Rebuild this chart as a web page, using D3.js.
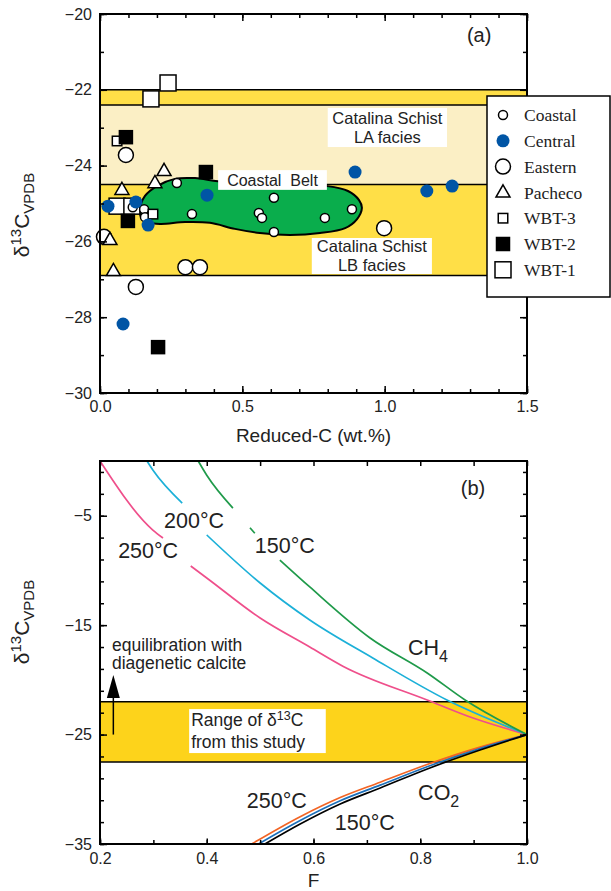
<!DOCTYPE html>
<meta charset="utf-8">
<style>
    body { margin: 0; background: #fff; }
    text { font-family: "Liberation Sans", Arial, Helvetica, sans-serif; fill: #222; }
    .legend text { font-family: "Liberation Serif", "Times New Roman", serif; }
</style>
<svg width="611" height="891"></svg>
<script src="https://cdn.jsdelivr.net/npm/d3@7"></script>
<script>

    // ---------- panel (a) : reduced C (wt.%) vs d13C ----------
    const coastal = [[0.270, -24.46], [0.155, -25.15], [0.158, -25.36], [0.115, -25.10], [0.323, -25.28],
        [0.611, -24.85], [0.558, -25.25], [0.569, -25.38], [0.611, -25.75], [0.790, -25.38], [0.885, -25.15]];
    const central = [[0.028, -25.07], [0.126, -24.96], [0.169, -25.57], [0.376, -24.78], [0.896, -24.17],
        [1.148, -24.67], [1.237, -24.54], [0.081, -28.18]];
    const eastern = [[0.091, -23.72], [0.014, -25.88], [0.300, -26.68], [0.351, -26.68], [0.126, -27.20], [0.998, -25.65]];
    const pacheco = [[0.225, -24.14], [0.193, -24.46], [0.077, -24.64], [0.035, -25.96], [0.047, -26.78]];
    const wbt3 = [[0.060, -23.35], [0.186, -25.28]];
    const wbt2 = [[0.091, -23.25], [0.372, -24.17], [0.098, -25.46], [0.204, -28.79]];
    const wbt1 = [[0.239, -21.82], [0.179, -22.24], [0.060, -25.07], [0.112, -25.07]];

    // Catalina Schist ranges
    const bandLB = [-22.0, -26.9];
    const bandLA = [-22.4, -24.5];

    // outline of the Coastal Belt field
    const coastalBelt = [[0.140, -25.17], [0.158, -24.80], [0.200, -24.54], [0.263, -24.35], [0.334, -24.33],
        [0.414, -24.41], [0.527, -24.46], [0.667, -24.49], [0.797, -24.54], [0.871, -24.67], [0.910, -24.91],
        [0.920, -25.12], [0.903, -25.41], [0.861, -25.65], [0.773, -25.78], [0.667, -25.83], [0.562, -25.78],
        [0.474, -25.67], [0.386, -25.51], [0.299, -25.49], [0.211, -25.54], [0.169, -25.49], [0.144, -25.36]];

    const xTicksA = [0, 0.5, 1.0, 1.5];
    const yTicksA = [-20, -22, -24, -26, -28, -30];

    // ---------- panel (b) : fraction F vs d13C ----------
    // CH4 curves (null = gap left for label)
    const ch4_250 = [[0.2, 0], [0.299, -6.31], [0.318, -7.04], null, [0.370, -9.60], [0.400, -10.69],
        [0.500, -14.35], [0.593, -17.0], [0.655, -18.75], [0.813, -21.84], [0.899, -23.49], [1.0, -25.0]];
    const ch4_200 = [[0.288, 0], [0.299, -0.82], [0.354, -3.84], null, [0.400, -6.76], [0.500, -11.15],
        [0.593, -14.53], [0.711, -18.0], [0.850, -21.84], [1.0, -25.0]];
    const ch4_150 = [[0.384, 0], [0.400, -1.3], [0.449, -4.3], null, [0.481, -6.1], [0.490, -6.6], null,
        [0.537, -9.05], [0.593, -11.51], [0.706, -16.17], [0.813, -19.37], [0.884, -21.84], [1.0, -25.0]];
    // CO2 curves
    const co2_250 = [[0.484, -35], [0.575, -32.5], [0.650, -30.75], [0.725, -29.35], [0.818, -27.65], [0.912, -26.15], [1.0, -25]];
    const co2_200 = [[0.497, -35], [0.575, -32.85], [0.650, -31.05], [0.725, -29.62], [0.818, -27.85], [0.912, -26.28], [1.0, -25]];
    const co2_150 = [[0.509, -35], [0.575, -33.17], [0.650, -31.34], [0.725, -29.88], [0.818, -28.05], [0.912, -26.41], [1.0, -25]];

    const rangeBand = [-22.0, -27.5];
    const xTicksB = [0.2, 0.4, 0.6, 0.8, 1.0];
    const yTicksB = [-5, -15, -25, -35];

    const YELLOW_A = "#ffdf47";
    const LIGHT_A = "#fbefc5";
    const GREEN = "#0aad4c";
    const BLUE_DOT = "#0055a5";
    const YELLOW_B = "#fdd31b";

    var svg = d3.select("svg");

    var xa = d3.scaleLinear().domain([0, 1.5]).range([100, 527]),
        ya = d3.scaleLinear().domain([-30, -20]).range([393, 14]);
    var xb = d3.scaleLinear().domain([0.2, 1.0]).range([100, 527]),
        yb = d3.scaleLinear().domain([-35, 0]).range([844, 461]);

    var minus = d3.format("d");

    // ================= panel (a) =================
    var ga = svg.append("g");

    ga.append("rect")
        .attr("x", xa(0)).attr("width", xa(1.5) - xa(0))
        .attr("y", ya(bandLB[0])).attr("height", ya(bandLB[1]) - ya(bandLB[0]))
        .attr("fill", YELLOW_A);
    ga.append("rect")
        .attr("x", xa(0)).attr("width", xa(1.5) - xa(0))
        .attr("y", ya(bandLA[0])).attr("height", ya(bandLA[1]) - ya(bandLA[0]))
        .attr("fill", LIGHT_A);
    ga.selectAll("line.band")
        .data([bandLB[0], bandLA[0], bandLA[1], bandLB[1]])
        .enter().append("line")
        .attr("x1", xa(0)).attr("x2", xa(1.5))
        .attr("y1", function (d) { return ya(d); })
        .attr("y2", function (d) { return ya(d); })
        .attr("stroke", "#000").attr("stroke-width", 1.5);

    ga.append("path")
        .attr("d", d3.line().x(function (d) { return xa(d[0]); }).y(function (d) { return ya(d[1]); })
            .curve(d3.curveCatmullRomClosed.alpha(0.5))(coastalBelt))
        .attr("fill", GREEN).attr("stroke", "#000").attr("stroke-width", 2);

    // white label boxes
    const notesA = [
        { lines: ["Catalina Schist", "LA facies"], box: [0.80, -22.48, 1.219, -23.51], size: 16.5 },
        { lines: ["Coastal\u00a0\u00a0Belt"], box: [0.415, -24.12, 0.797, -24.64], size: 16 },
        { lines: ["Catalina Schist", "LB facies"], box: [0.744, -25.91, 1.166, -26.86], size: 16.5 }
    ];
    notesA.forEach(function (n) {
        var x0 = xa(n.box[0]), x1 = xa(n.box[2]), y0 = ya(n.box[1]), y1 = ya(n.box[3]);
        ga.append("rect").attr("x", x0).attr("y", y0).attr("width", x1 - x0).attr("height", y1 - y0)
            .attr("fill", "#fff");
        var lh = 19, cy = (y0 + y1) / 2 - (n.lines.length - 1) * lh / 2;
        n.lines.forEach(function (s, i) {
            ga.append("text").attr("x", (x0 + x1) / 2).attr("y", cy + i * lh)
                .attr("text-anchor", "middle").attr("dy", "0.35em")
                .style("font-size", n.size + "px").text(s);
        });
    });

    const kinds = {
        "Coastal": { shape: "circle", r: 4.5, fill: "#fff" },
        "Central": { shape: "circle", r: 6.5, fill: BLUE_DOT, stroke: "none" },
        "Eastern": { shape: "circle", r: 7.5, fill: "#fff" },
        "Pacheco": { shape: "triangle", s: 14, fill: "#fff" },
        "WBT-3": { shape: "square", s: 9.5, fill: "#fff" },
        "WBT-2": { shape: "square", s: 13, fill: "#000" },
        "WBT-1": { shape: "square", s: 16, fill: "#fff" }
    };

    function addMark(g, name, cx, cy) {
        var k = kinds[name], el;
        if (k.shape == "circle") {
            el = g.append("circle").attr("cx", cx).attr("cy", cy).attr("r", k.r);
        } else if (k.shape == "square") {
            el = g.append("rect").attr("x", cx - k.s / 2).attr("y", cy - k.s / 2)
                .attr("width", k.s).attr("height", k.s);
        } else {
            var h = k.s * 0.87;
            el = g.append("path").attr("d", "M" + cx + "," + (cy - h * 0.62) +
                "L" + (cx + k.s / 2) + "," + (cy + h * 0.38) +
                "L" + (cx - k.s / 2) + "," + (cy + h * 0.38) + "Z");
        }
        el.attr("fill", k.fill)
            .attr("stroke", k.stroke || "#000")
            .attr("stroke-width", 1.5);
    }

    var series = [["WBT-1", wbt1], ["Eastern", eastern], ["Pacheco", pacheco], ["Coastal", coastal],
        ["WBT-3", wbt3], ["WBT-2", wbt2], ["Central", central]];
    var gp = ga.append("g");
    series.forEach(function (s) {
        s[1].forEach(function (d) { addMark(gp, s[0], xa(d[0]), ya(d[1])); });
    });

    // axes (ticks point inward)
    function ticksA() {
        var minorX = d3.range(0, 1.51, 0.1).map(function (v) { return +v.toFixed(1); });
        var minorY = d3.range(-30, -19, 1);
        ga.append("g").attr("transform", "translate(0," + ya(-30) + ")")
            .call(d3.axisBottom(xa).tickValues(minorX).tickFormat("").tickSizeInner(-4).tickSizeOuter(0));
        ga.append("g").attr("transform", "translate(0," + ya(-30) + ")")
            .call(d3.axisBottom(xa).tickValues(xTicksA).tickFormat(d3.format(".1f")).tickSizeInner(-7).tickSizeOuter(0).tickPadding(8));
        ga.append("g").attr("transform", "translate(0," + ya(-20) + ")")
            .call(d3.axisTop(xa).tickValues(minorX).tickFormat("").tickSizeInner(-4).tickSizeOuter(0));
        ga.append("g").attr("transform", "translate(0," + ya(-20) + ")")
            .call(d3.axisTop(xa).tickValues(xTicksA).tickFormat("").tickSizeInner(-7).tickSizeOuter(0));
        ga.append("g").attr("transform", "translate(" + xa(0) + ",0)")
            .call(d3.axisLeft(ya).tickValues(minorY).tickFormat("").tickSizeInner(-4).tickSizeOuter(0));
        ga.append("g").attr("transform", "translate(" + xa(0) + ",0)")
            .call(d3.axisLeft(ya).tickValues(yTicksA).tickFormat(minus).tickSizeInner(-7).tickSizeOuter(0).tickPadding(8));
        ga.append("g").attr("transform", "translate(" + xa(1.5) + ",0)")
            .call(d3.axisRight(ya).tickValues(minorY).tickFormat("").tickSizeInner(-4).tickSizeOuter(0));
        ga.append("g").attr("transform", "translate(" + xa(1.5) + ",0)")
            .call(d3.axisRight(ya).tickValues(yTicksA).tickFormat("").tickSizeInner(-7).tickSizeOuter(0));
    }
    ticksA();

    ga.append("rect").attr("x", xa(0)).attr("y", ya(-20))
        .attr("width", xa(1.5) - xa(0)).attr("height", ya(-30) - ya(-20))
        .attr("fill", "none").attr("stroke", "#000").attr("stroke-width", 2);

    ga.append("text").attr("x", xa(1.289)).attr("y", ya(-20.55)).attr("dy", "0.35em")
        .style("font-size", "20px").text("(a)");

    ga.append("text").attr("x", (xa(0) + xa(1.5)) / 2).attr("y", 435).attr("dy", "0.35em")
        .attr("text-anchor", "middle").style("font-size", "19px").text("Reduced-C (wt.%)");

    // legend
    var names = ["Coastal", "Central", "Eastern", "Pacheco", "WBT-3", "WBT-2", "WBT-1"];
    var lg = svg.append("g").attr("class", "legend");
    lg.append("rect").attr("x", 487).attr("y", 96).attr("width", 123).attr("height", 201)
        .attr("fill", "#fff").attr("stroke", "#000").attr("stroke-width", 1.5);
    names.forEach(function (n, i) {
        var cy = 115 + i * 25.8;
        addMark(lg, n, 503, cy);
        lg.append("text").attr("x", 524).attr("y", cy).attr("dy", "0.35em")
            .style("font-size", "17.5px").text(n);
    });

    // ================= panel (b) =================
    var gb = svg.append("g");

    gb.append("rect")
        .attr("x", xb(0.2)).attr("width", xb(1.0) - xb(0.2))
        .attr("y", yb(rangeBand[0])).attr("height", yb(rangeBand[1]) - yb(rangeBand[0]))
        .attr("fill", YELLOW_B);
    gb.selectAll("line.band")
        .data(rangeBand)
        .enter().append("line")
        .attr("x1", xb(0.2)).attr("x2", xb(1.0))
        .attr("y1", function (d) { return yb(d); })
        .attr("y2", function (d) { return yb(d); })
        .attr("stroke", "#000").attr("stroke-width", 1.6);

    // Range of d13C box
    var rb = [0.367, -22.67, 0.623, -26.69];
    gb.append("rect").attr("x", xb(rb[0])).attr("y", yb(rb[1]))
        .attr("width", xb(rb[2]) - xb(rb[0])).attr("height", yb(rb[3]) - yb(rb[1]))
        .attr("fill", "#fff");
    var r1 = gb.append("text").attr("x", xb(rb[0]) + 2).attr("y", yb(-23.69)).attr("dy", "0.35em")
        .style("font-size", "17.5px");
    r1.append("tspan").text("Range of \u03b4");
    r1.append("tspan").attr("dy", -6).style("font-size", "12.5px").text("13");
    r1.append("tspan").attr("dy", 6).text("C");
    gb.append("text").attr("x", xb(rb[0]) + 2).attr("y", yb(-25.7)).attr("dy", "0.35em")
        .style("font-size", "17.5px").text("from this study");

    var lineB = d3.line()
        .defined(function (d) { return d != null; })
        .x(function (d) { return xb(d[0]); })
        .y(function (d) { return yb(d[1]); })
        .curve(d3.curveMonotoneX);

    [[ch4_250, "#ef4f8b"], [ch4_200, "#1cb0d8"], [ch4_150, "#1f9a4a"],
        [co2_250, "#f26424"], [co2_200, "#1b6fba"], [co2_150, "#000"]].forEach(function (c) {
        gb.append("path").attr("d", lineB(c[0]))
            .attr("fill", "none").attr("stroke", c[1]).attr("stroke-width", 1.7)
            .attr("stroke-linejoin", "round");
    });

    // arrow: equilibration with diagenetic calcite
    var ax = xb(0.225);
    gb.append("line").attr("x1", ax).attr("x2", ax).attr("y1", yb(-25)).attr("y2", yb(-21.5))
        .attr("stroke", "#000").attr("stroke-width", 1.5);
    gb.append("path")
        .attr("d", "M" + ax + "," + yb(-19.56) + "L" + (ax + 6.5) + "," + yb(-21.66) + "L" + (ax - 6.5) + "," + yb(-21.66) + "Z")
        .attr("fill", "#000");
    gb.append("text").attr("x", xb(0.2225)).attr("y", yb(-16.8)).attr("dy", "0.35em")
        .style("font-size", "17.5px").text("equilibration with");
    gb.append("text").attr("x", xb(0.2225)).attr("y", yb(-18.46)).attr("dy", "0.35em")
        .style("font-size", "17.5px").text("diagenetic calcite");

    const labelsB = [
        ["200\u00b0C", 0.320, -5.39], ["250\u00b0C", 0.234, -8.22], ["150\u00b0C", 0.490, -7.68],
        ["250\u00b0C", 0.475, -30.98], ["150\u00b0C", 0.640, -32.99]
    ];
    labelsB.forEach(function (l) {
        gb.append("text").attr("x", xb(l[1])).attr("y", yb(l[2])).attr("dy", "0.35em")
            .style("font-size", "21.5px").text(l[0]);
    });

    function chem(base, sub, F, d) {
        var t = gb.append("text").attr("x", xb(F)).attr("y", yb(d)).attr("dy", "0.35em")
            .style("font-size", "21.5px");
        t.append("tspan").text(base);
        t.append("tspan").attr("dy", "0.45em").style("font-size", "16px").text(sub);
    }
    chem("CH", "4", 0.777, -17.0);
    chem("CO", "2", 0.796, -30.25);

    function ticksB() {
        var minorX = d3.range(0.2, 1.01, 0.1).map(function (v) { return +v.toFixed(1); });
        var minorY = d3.range(-35, 0, 2);
        gb.append("g").attr("transform", "translate(0," + yb(-35) + ")")
            .call(d3.axisBottom(xb).tickValues(minorX).tickFormat("").tickSizeInner(-4).tickSizeOuter(0));
        gb.append("g").attr("transform", "translate(0," + yb(-35) + ")")
            .call(d3.axisBottom(xb).tickValues(xTicksB).tickFormat(d3.format(".1f")).tickSizeInner(-5.5).tickSizeOuter(0).tickPadding(9));
        gb.append("g").attr("transform", "translate(0," + yb(0) + ")")
            .call(d3.axisTop(xb).tickValues(minorX).tickFormat("").tickSizeInner(-5).tickSizeOuter(0));
        gb.append("g").attr("transform", "translate(" + xb(0.2) + ",0)")
            .call(d3.axisLeft(yb).tickValues(minorY).tickFormat("").tickSizeInner(-4).tickSizeOuter(0));
        gb.append("g").attr("transform", "translate(" + xb(0.2) + ",0)")
            .call(d3.axisLeft(yb).tickValues(yTicksB).tickFormat(minus).tickSizeInner(-7).tickSizeOuter(0).tickPadding(8));
        gb.append("g").attr("transform", "translate(" + xb(1.0) + ",0)")
            .call(d3.axisRight(yb).tickValues(minorY).tickFormat("").tickSizeInner(-4).tickSizeOuter(0));
        gb.append("g").attr("transform", "translate(" + xb(1.0) + ",0)")
            .call(d3.axisRight(yb).tickValues(yTicksB).tickFormat("").tickSizeInner(-7).tickSizeOuter(0));
    }
    ticksB();

    gb.append("rect").attr("x", xb(0.2)).attr("y", yb(0))
        .attr("width", xb(1.0) - xb(0.2)).attr("height", yb(-35) - yb(0))
        .attr("fill", "none").attr("stroke", "#000").attr("stroke-width", 2);

    gb.append("text").attr("x", xb(0.876)).attr("y", yb(-2.47)).attr("dy", "0.35em")
        .style("font-size", "20px").text("(b)");
    gb.append("text").attr("x", (xb(0.2) + xb(1.0)) / 2).attr("y", 880).attr("dy", "0.35em")
        .attr("text-anchor", "middle").style("font-size", "19px").text("F");

    // tidy the axis tick styles
    svg.selectAll(".domain").remove();
    svg.selectAll(".tick line").attr("stroke", "#000").attr("stroke-width", 1.5);
    svg.selectAll(".tick text").style("font-size", "16px").style("font-family", "'Liberation Sans', Arial, sans-serif")
        .attr("fill", "#222");

    // y axis titles: d13C VPDB
    function yTitle(cx, cy) {
        var t = svg.append("text").attr("transform", "translate(" + cx + "," + cy + ") rotate(-90)")
            .attr("text-anchor", "middle").style("font-size", "21px");
        t.append("tspan").text("\u03b4");
        t.append("tspan").attr("dy", -8).style("font-size", "15px").text("13");
        t.append("tspan").attr("dy", 8).text("C");
        t.append("tspan").attr("dy", 5).style("font-size", "15px").text("VPDB");
    }
    yTitle(29, 215);
    yTitle(29, 622);

</script>
